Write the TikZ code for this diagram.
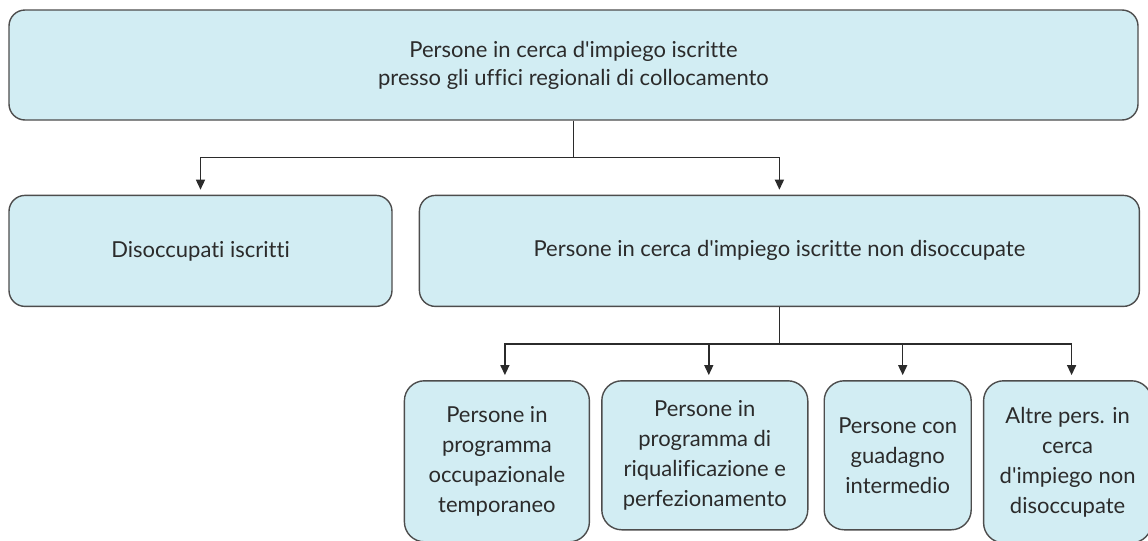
\documentclass[tikz,border=0pt]{standalone}
\usepackage{fontspec}
\setmainfont{Lato}[Ligatures={TeXOff,NoCommon}]
\usetikzlibrary{arrows.meta,positioning}
\definecolor{boxfill}{HTML}{D2EDF3}
\definecolor{boxline}{HTML}{4D4D4D}
\definecolor{inkgray}{HTML}{2B2B2B}

\begin{document}
\begin{tikzpicture}[
  x=1pt,y=1pt,
  box/.style={draw=boxline,fill=boxfill,line width=0.7pt,rounded corners=8pt,align=center,text=inkgray,font=\fontsize{11}{14}\selectfont,inner sep=2pt},
  leaf/.style={box,rounded corners=10pt,font=\fontsize{11}{15}\selectfont},
  arr/.style={-{Triangle[length=5pt,width=4.5pt]},line width=0.7pt,draw=inkgray,shorten >=2.5pt}
]
  \useasboundingbox (0,0) rectangle (574,-270.5);
  \node[box,minimum width=564.5pt,minimum height=55pt] (iscritte) at (286.75,-32.5) {Persone in cerca d'impiego iscritte\\presso gli uffici regionali di collocamento};
  \node[box,minimum width=191.5pt,minimum height=55.5pt,below right=37pt and 0pt of iscritte.south west] (disocc) {Disoccupati iscritti};
  \node[box,minimum width=360pt,minimum height=55.5pt,right=13pt of disocc] (nondis) {Persone in cerca d'impiego iscritte non disoccupate};
  % bottom row, tops aligned
  \node[leaf,minimum width=92.5pt,minimum height=80.5pt,below right=36.5pt and -7.5pt of nondis.south west] (progocc) {Persone in\\programma\\occupazionale\\temporaneo};
  \node[leaf,minimum width=103pt,minimum height=74.5pt,right=5.5pt of progocc.north east,anchor=north west] (riqual) {Persone in\\programma di\\riqualificazione e\\perfezionamento};
  \node[leaf,minimum width=73.5pt,minimum height=74.5pt,right=7.5pt of riqual.north east,anchor=north west] (guadagno) {Persone con\\guadagno\\intermedio};
  \node[leaf,minimum width=84pt,minimum height=81pt,right=5.5pt of guadagno.north east,anchor=north west] (altre) {Altre pers. in\\cerca\\d'impiego non\\disoccupate};
  \draw[arr] (iscritte.south) -- ++(0,-18.5) -| (disocc.north);
  \draw[arr] (iscritte.south) -- ++(0,-18.5) -| (nondis.north);
  \foreach \leafname/\dx in {progocc/4,riqual/2,guadagno/2.5,altre/2}
    \draw[arr] (nondis.south) -- ++(0,-18.5) -| ([xshift=\dx pt]\leafname.north);
\end{tikzpicture}
\end{document}
